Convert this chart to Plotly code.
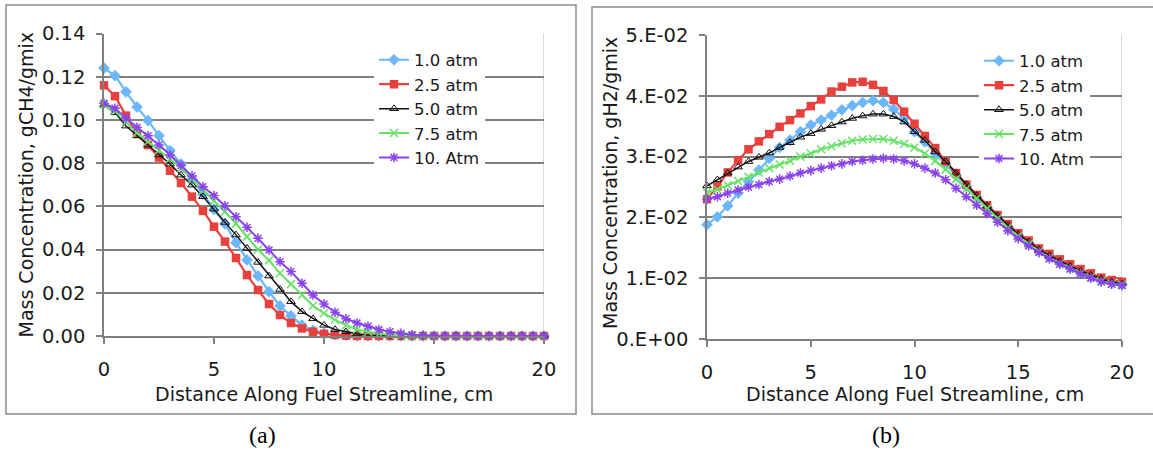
import plotly.graph_objects as go

W, H = 1153, 453

distance = [0, 0.5, 1, 1.5, 2, 2.5, 3, 3.5, 4, 4.5, 5, 5.5, 6, 6.5, 7, 7.5, 8, 8.5, 9, 9.5,
            10, 10.5, 11, 11.5, 12, 12.5, 13, 13.5, 14, 14.5, 15, 15.5, 16, 16.5, 17, 17.5,
            18, 18.5, 19, 19.5, 20]

series_names = ["1.0 atm", "2.5 atm", "5.0 atm", "7.5 atm", "10. Atm"]

# (a) CH4 mass concentration
ch4_1p0 = [0.124, 0.1205, 0.113, 0.106, 0.0997, 0.0927, 0.0858, 0.0796, 0.0726, 0.0656, 0.0586,
           0.0519, 0.0432, 0.0352, 0.0278, 0.0205, 0.0139, 0.0093, 0.005, 0.0025, 0.0012, 0.0006,
           0.0003, 0.0001, 0, 0, 0, 0, 0, 0, 0, 0, 0, 0, 0, 0, 0, 0, 0, 0, 0]
ch4_2p5 = [0.116, 0.111, 0.102, 0.0935, 0.0884, 0.0826, 0.0765, 0.0708, 0.0645, 0.0579, 0.0506,
           0.0437, 0.0361, 0.0282, 0.0213, 0.0148, 0.0097, 0.006, 0.0035, 0.002, 0.001, 0.0005,
           0.0002, 0, 0, 0, 0, 0, 0, 0, 0, 0, 0, 0, 0, 0, 0, 0, 0, 0, 0]
ch4_5p0 = [0.107, 0.1034, 0.0972, 0.0927, 0.0884, 0.0838, 0.0796, 0.0745, 0.0699, 0.0645, 0.0588,
           0.0526, 0.0468, 0.0406, 0.0341, 0.0278, 0.0216, 0.0159, 0.0113, 0.008, 0.005, 0.003,
           0.002, 0.001, 0.0005, 0.0002, 0, 0, 0, 0, 0, 0, 0, 0, 0, 0, 0, 0, 0, 0, 0]
ch4_7p5 = [0.107, 0.104, 0.099, 0.094, 0.090, 0.086, 0.082, 0.0775, 0.0725, 0.0675, 0.0625,
           0.0575, 0.052, 0.046, 0.040, 0.035, 0.029, 0.024, 0.019, 0.014, 0.0105, 0.0075,
           0.005, 0.003, 0.002, 0.001, 0.0005, 0.0002, 0, 0, 0, 0, 0, 0, 0, 0, 0, 0, 0, 0, 0]
ch4_10 = [0.1077, 0.1054, 0.1008, 0.0966, 0.0927, 0.0884, 0.0838, 0.0789, 0.0741, 0.0691, 0.065,
          0.0603, 0.0552, 0.0503, 0.0452, 0.0398, 0.0344, 0.0298, 0.0244, 0.019, 0.0148, 0.011,
          0.008, 0.006, 0.0045, 0.003, 0.002, 0.0012, 0.0006, 0.0003, 0, 0, 0, 0, 0, 0, 0, 0, 0, 0, 0]

# (b) H2 mass concentration
h2_1p0 = [0.0188, 0.0201, 0.0219, 0.0240, 0.0259, 0.0278, 0.0297, 0.0315, 0.0327, 0.0341,
          0.0352, 0.0360, 0.0368, 0.0377, 0.0384, 0.0389, 0.0392, 0.0389, 0.0378, 0.0363,
          0.0341, 0.0324, 0.0305, 0.0287, 0.0269, 0.0251, 0.0233, 0.0216, 0.0200, 0.0185,
          0.0171, 0.0158, 0.0146, 0.0135, 0.0126, 0.0118, 0.0110, 0.0103, 0.0097, 0.0093, 0.0090]
h2_2p5 = [0.0230, 0.0251, 0.0274, 0.0294, 0.0312, 0.0325, 0.0337, 0.0349, 0.0360, 0.0371,
          0.0383, 0.0394, 0.0407, 0.0415, 0.0422, 0.0423, 0.0418, 0.0408, 0.0393, 0.0374,
          0.0354, 0.0334, 0.0314, 0.0292, 0.0273, 0.0254, 0.0237, 0.0220, 0.0204, 0.0189,
          0.0174, 0.0162, 0.0149, 0.0140, 0.0131, 0.0123, 0.0115, 0.0108, 0.0101, 0.0097, 0.0094]
h2_5p0 = [0.0252, 0.0262, 0.0273, 0.0283, 0.0292, 0.0299, 0.0306, 0.0315, 0.0323, 0.0332,
          0.0338, 0.0345, 0.0351, 0.0357, 0.0363, 0.0367, 0.0370, 0.0370, 0.0366, 0.0357,
          0.0341, 0.0327, 0.0308, 0.0292, 0.0273, 0.0254, 0.0236, 0.0219, 0.0203, 0.0187,
          0.0172, 0.0160, 0.0147, 0.0137, 0.0128, 0.0120, 0.0112, 0.0105, 0.0099, 0.0094, 0.0091]
h2_7p5 = [0.0241, 0.0246, 0.0253, 0.0260, 0.0267, 0.0274, 0.0281, 0.0287, 0.0293, 0.0300,
          0.0305, 0.0312, 0.0317, 0.0322, 0.0326, 0.0328, 0.0329, 0.0329, 0.0326, 0.0321,
          0.0315, 0.0305, 0.0293, 0.0279, 0.0263, 0.0247, 0.0231, 0.0214, 0.0198, 0.0183,
          0.0169, 0.0156, 0.0144, 0.0133, 0.0124, 0.0116, 0.0108, 0.0101, 0.0095, 0.0091, 0.0089]
h2_10 = [0.0230, 0.0234, 0.0240, 0.0245, 0.0250, 0.0254, 0.0259, 0.0263, 0.0268, 0.0273,
         0.0277, 0.0281, 0.0285, 0.0288, 0.0292, 0.0294, 0.0296, 0.0297, 0.0296, 0.0293,
         0.0288, 0.0281, 0.0273, 0.0262, 0.0248, 0.0234, 0.0220, 0.0206, 0.0192, 0.0178,
         0.0165, 0.0153, 0.0142, 0.0132, 0.0123, 0.0115, 0.0107, 0.0100, 0.0094, 0.0090, 0.0088]

x_ticks = [0, 5, 10, 15, 20]
ch4_ticks = [0, 0.02, 0.04, 0.06, 0.08, 0.10, 0.12, 0.14]
h2_ticks = [0, 0.01, 0.02, 0.03, 0.04, 0.05]
h2_ticktext = ["0.E+00", "1.E-02", "2.E-02", "3.E-02", "4.E-02", "5.E-02"]

x_title = "Distance Along Fuel Streamline, cm"
ch4_title = "Mass Concentration, gCH4/gmix"
h2_title = "Mass Concentration, gH2/gmix"

styles = [
    dict(color="#6cb6fa", symbol="diamond", size=9, lw=2.2, mline=0),
    dict(color="#e8413d", symbol="square", size=8.5, lw=2.2, mline=0),
    dict(color="#111111", symbol="triangle-up-open", size=7.5, lw=1.5, mline=1),
    dict(color="#66e266", symbol="x-thin-open", size=8, lw=2.0, mline=1.5),
    dict(color="#8a44ee", symbol="asterisk-open", size=8, lw=2.0, mline=1.5),
]

FONT = "DejaVu Sans"
TXT = "#1a1a1a"
GRID = "#808080"

def px_x(p):
    return p / W

def px_y(p):
    return 1 - p / H

fig = go.Figure()

for ys, xa, ya, lg in [([ch4_1p0, ch4_2p5, ch4_5p0, ch4_7p5, ch4_10], "x", "y", "legend"),
                       ([h2_1p0, h2_2p5, h2_5p0, h2_7p5, h2_10], "x2", "y2", "legend2")]:
    for name, yv, st in zip(series_names, ys, styles):
        fig.add_trace(go.Scatter(
            x=distance, y=yv, name=name, mode="lines+markers",
            xaxis=xa, yaxis=ya, legend=lg, cliponaxis=False,
            line=dict(color=st["color"], width=st["lw"]),
            marker=dict(symbol=st["symbol"], size=st["size"], color=st["color"],
                        line=dict(width=st["mline"], color=st["color"])),
        ))

axis_common = dict(
    zeroline=False, ticks="outside", ticklen=6, tickwidth=1.5,
    tickcolor=GRID, showline=True, linecolor=GRID, linewidth=1.5,
    tickfont=dict(family=FONT, size=19.5, color=TXT),
)
xaxis_common = dict(showgrid=False, ticklabelstandoff=9, **axis_common)
yaxis_common = dict(showgrid=True, gridcolor=GRID, gridwidth=1.5, ticklabelstandoff=7,
                    **axis_common)

LEG_FONT = dict(family=FONT, size=16.5, color=TXT)

fig.update_layout(
    width=W, height=H, margin=dict(l=0, r=0, t=0, b=0, autoexpand=False),
    paper_bgcolor="white", plot_bgcolor="rgba(0,0,0,0)",
    showlegend=True,
    xaxis=dict(domain=[px_x(104), px_x(544)], range=[0, 20], tickvals=x_ticks,
               anchor="y", **xaxis_common),
    yaxis=dict(domain=[px_y(336), px_y(33.5)], range=[0, 0.14], tickvals=ch4_ticks,
               tickformat=".2f", anchor="x", **yaxis_common),
    xaxis2=dict(domain=[px_x(707), px_x(1122)], range=[0, 20], tickvals=x_ticks,
                anchor="y2", **xaxis_common),
    yaxis2=dict(domain=[px_y(339), px_y(35)], range=[0, 0.05], tickvals=h2_ticks,
                ticktext=h2_ticktext, anchor="x2", **yaxis_common),
    legend=dict(x=px_x(374), y=px_y(42.5), xanchor="left", yanchor="top",
                bgcolor="white", borderwidth=0, font=LEG_FONT),
    legend2=dict(x=px_x(979), y=px_y(43.5), xanchor="left", yanchor="top",
                 bgcolor="white", borderwidth=0, font=LEG_FONT),
)

shapes = [
    # outer frames
    dict(type="rect", xref="paper", yref="paper", x0=px_x(6), x1=px_x(576),
         y0=px_y(414), y1=px_y(5), line=dict(color="#8c8c8c", width=1.5)),
    dict(type="rect", xref="paper", yref="paper", x0=px_x(592), x1=px_x(1160),
         y0=px_y(414), y1=px_y(7), line=dict(color="#8c8c8c", width=1.5)),
    # light plot-area borders on the right side
    dict(type="line", xref="x", yref="paper", x0=20, x1=20, y0=px_y(336), y1=px_y(33.5),
         line=dict(color="#cccccc", width=1.5), layer="below"),
    dict(type="line", xref="x2", yref="paper", x0=20, x1=20, y0=px_y(339), y1=px_y(35),
         line=dict(color="#cccccc", width=1.5), layer="below"),
]

def ann(text, x, y, size=19, family=FONT, angle=0, color=TXT):
    return dict(text=text, x=px_x(x), y=px_y(y), xref="paper", yref="paper",
                xanchor="center", yanchor="middle", showarrow=False, textangle=angle,
                font=dict(family=family, size=size, color=color))

annotations = [
    ann(x_title, 323.5, 394),
    ann(x_title, 914.5, 394),
    ann(ch4_title, 25, 184.5, angle=-90),
    ann(h2_title, 610, 183, angle=-90),
    ann("(a)", 262, 435, size=24, family="Liberation Serif", color="#000000"),
    ann("(b)", 886, 435, size=24, family="Liberation Serif", color="#000000"),
]

fig.update_layout(shapes=shapes, annotations=annotations)

fig.write_html("out.html",
               config={"displayModeBar": False},
               post_script="document.body.style.margin='0px';"
                           "document.body.style.overflow='hidden';")
